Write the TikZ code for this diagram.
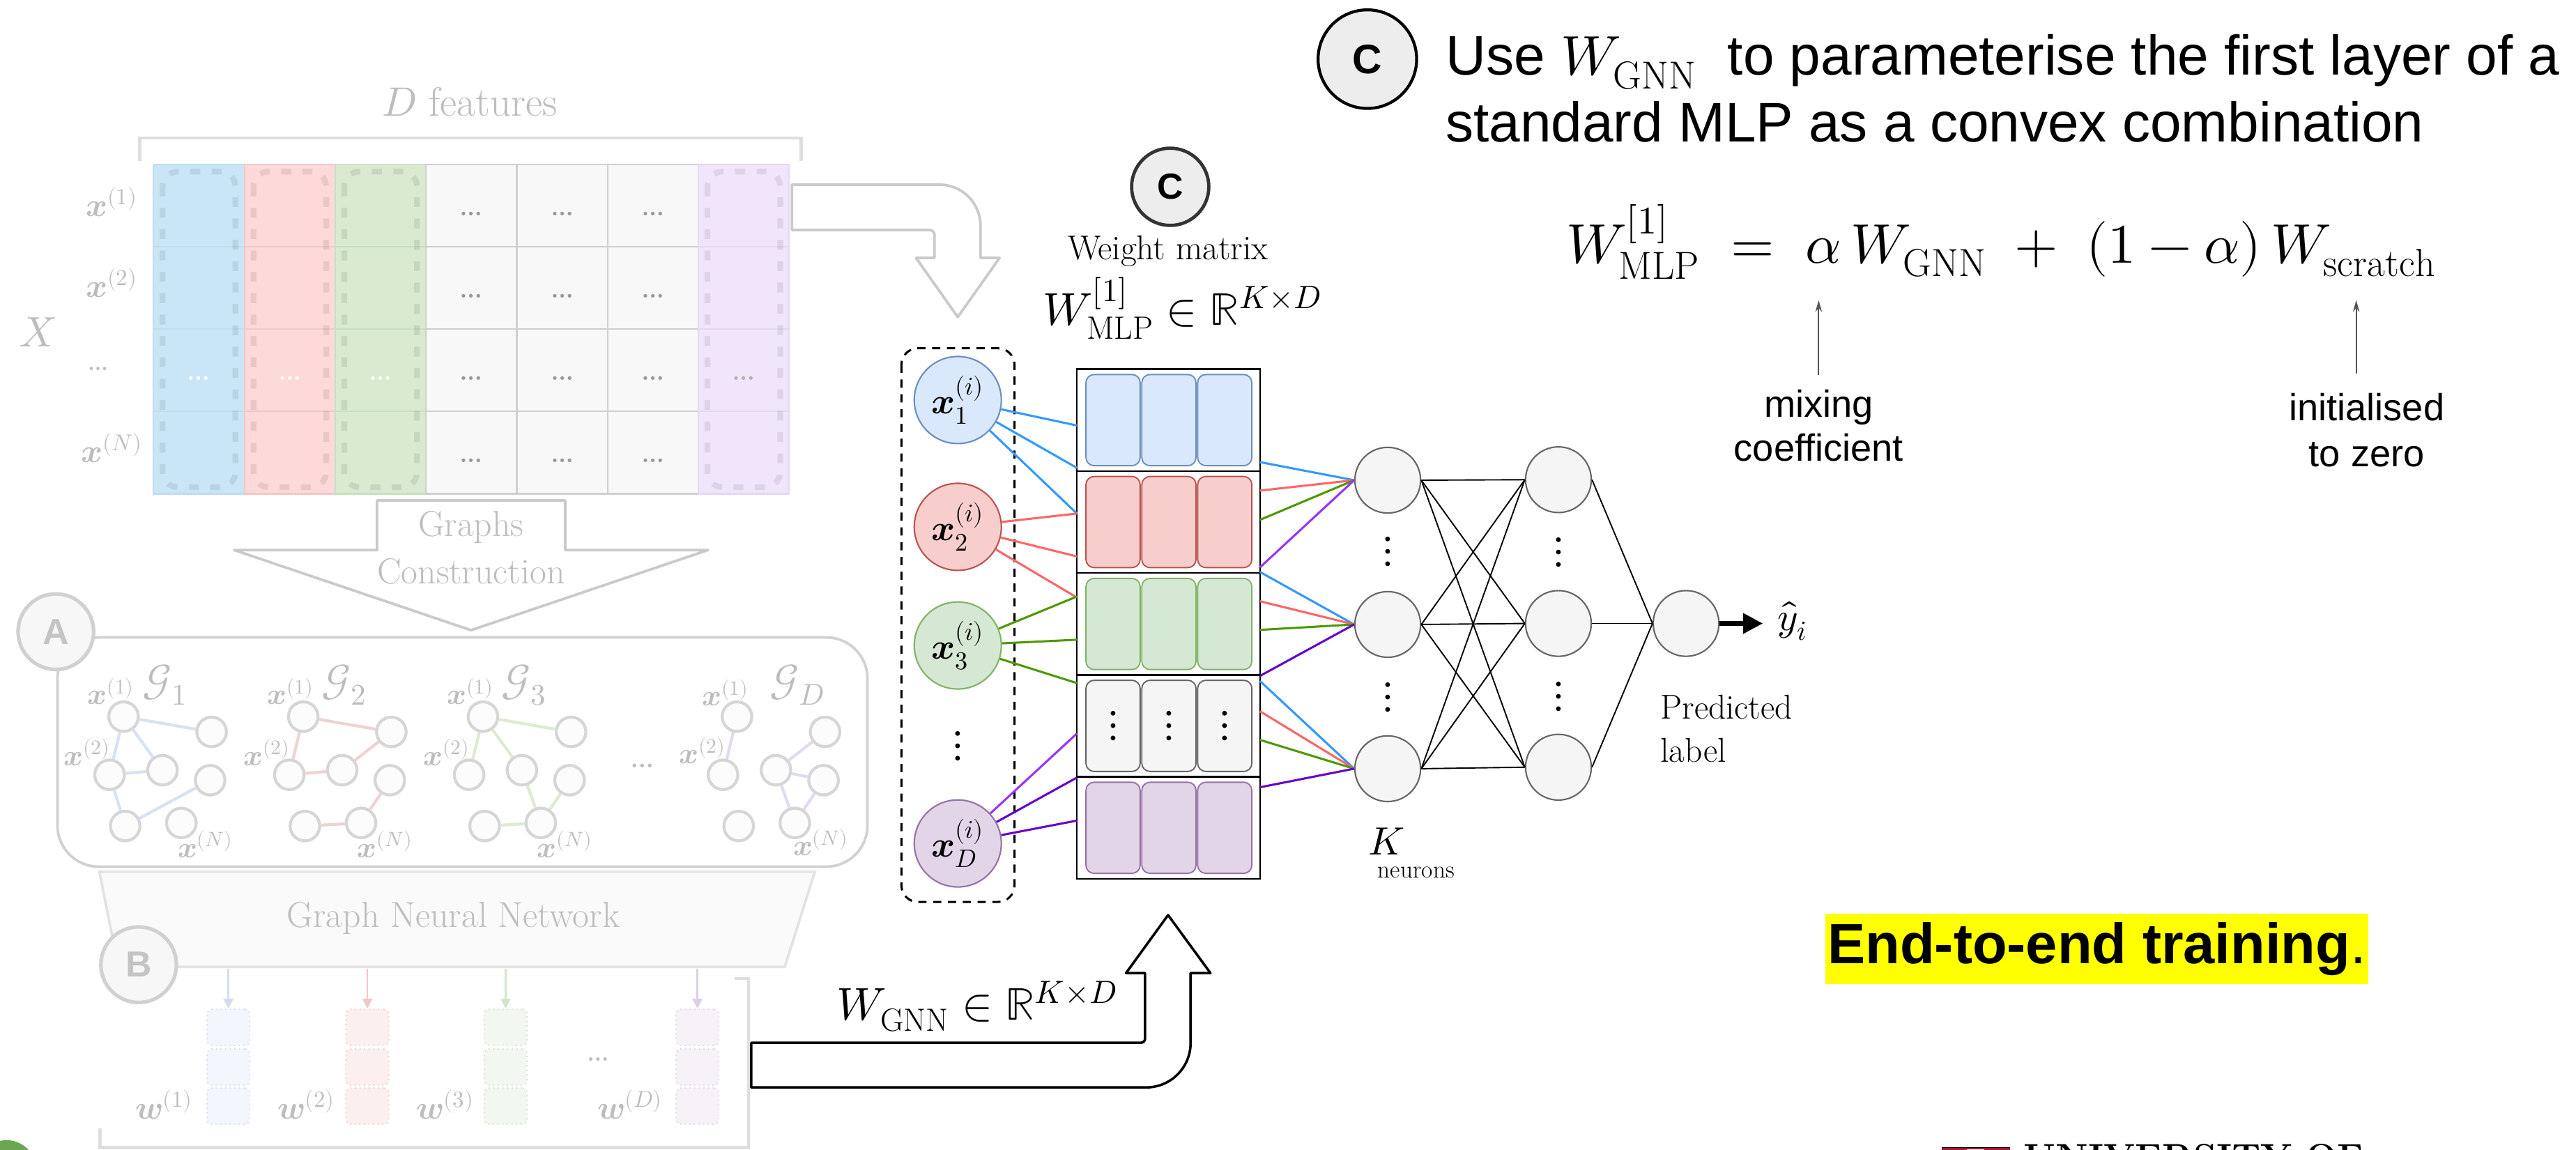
\documentclass[tikz,border=0pt]{standalone}
\usepackage{fontspec}
\usepackage{unicode-math}
\setmathfont{Latin Modern Math}
\newfontfamily\rob{Liberation Sans}
\usetikzlibrary{arrows.meta}
\newcommand\fsz[2]{\fontsize{#1}{#2}\selectfont}
% faded part
\definecolor{ftext}{HTML}{BDBDBD}
\definecolor{fline}{HTML}{CACACA}
\definecolor{cblue}{HTML}{C9E6F6}\definecolor{bblue}{HTML}{BFDDEE}
\definecolor{cred}{HTML}{FDD9D9}\definecolor{bred}{HTML}{F0C8C9}
\definecolor{cgreen}{HTML}{D9EAD0}\definecolor{bgreen}{HTML}{CADFC0}
\definecolor{cgray}{HTML}{F8F8F8}\definecolor{bgray}{HTML}{CFCFCF}
\definecolor{cpurp}{HTML}{F0E5FB}\definecolor{bpurp}{HTML}{E4D8F2}
\definecolor{eblue}{HTML}{D8E2F0}\definecolor{ered}{HTML}{EED3D3}
\definecolor{egreen}{HTML}{DCEBD2}\definecolor{epurp}{HTML}{E4DAEC}
\definecolor{gnfill}{HTML}{FCFCFC}\definecolor{gndraw}{HTML}{D6D6D6}
\definecolor{wbF}{HTML}{F3F6FC}\definecolor{wbD}{HTML}{D6E0EE}\definecolor{wbA}{HTML}{D3DDEE}
\definecolor{wrF}{HTML}{FBEFEF}\definecolor{wrD}{HTML}{EED2D2}\definecolor{wrA}{HTML}{EEC9C9}
\definecolor{wgF}{HTML}{F2F7EF}\definecolor{wgD}{HTML}{D6E6CC}\definecolor{wgA}{HTML}{D3E5C8}
\definecolor{wpF}{HTML}{F6F2F8}\definecolor{wpD}{HTML}{E3D9EA}\definecolor{wpA}{HTML}{DDD0E6}
% active part
\definecolor{dblueF}{HTML}{DAE8FC}\definecolor{dblueD}{HTML}{6C8EBF}
\definecolor{dredF}{HTML}{F8CECC}\definecolor{dredD}{HTML}{B85450}
\definecolor{dgreenF}{HTML}{D5E8D4}\definecolor{dgreenD}{HTML}{82B366}
\definecolor{dgrayF}{HTML}{F5F5F5}\definecolor{dgrayD}{HTML}{666666}
\definecolor{dpurpF}{HTML}{E1D5E7}\definecolor{dpurpD}{HTML}{9673A6}
\definecolor{lblue}{HTML}{3399FF}\definecolor{lred}{HTML}{FF6666}
\definecolor{lgreen}{HTML}{4D9900}\definecolor{lpurp}{HTML}{9933FF}
\definecolor{lpurpd}{HTML}{6600CC}
\definecolor{annot}{HTML}{555555}
\definecolor{hl}{HTML}{FFFF00}
\definecolor{unired}{HTML}{A3192E}
\begin{document}
\begin{tikzpicture}[x=1pt,y=-1pt,
  ft/.style={text=ftext, inner sep=0pt},
  gn/.style={circle, minimum size=18pt, inner sep=0pt, fill=gnfill, draw=gndraw, line width=1.8pt},
  ge/.style={line width=1.8pt},
  glab/.style={ft, font=\fsz{18}{20}},
  dashcol/.style={draw=black, draw opacity=0.08, line width=3.5pt, dash pattern=on 6pt off 7pt, rounded corners=9pt},
  fcirc/.style={circle, minimum size=46pt, inner sep=0pt, fill=black!3, draw=black!18, line width=2.2pt, text=black!23, font=\rob\bfseries\fsz{22}{24}},
  wv/.style={rectangle, rounded corners=3pt, minimum width=26pt, minimum height=22pt, inner sep=0pt, dotted, line width=0.8pt},
  garrow/.style={draw=fline, line width=1.6pt, fill=white, line join=round},
  inp/.style={circle, minimum size=53pt, inner sep=0pt, line width=0.9pt, font=\fsz{22}{26}},
  rowbox/.style={rectangle, minimum width=111.5pt, minimum height=62.04pt, inner sep=0pt, draw=black, line width=1pt},
  cell/.style={rectangle, rounded corners=5pt, minimum width=33pt, minimum height=55.5pt, inner sep=0pt, line width=0.8pt},
  hid/.style={circle, minimum size=40pt, inner sep=0pt, fill=dgrayF, draw=dgrayD, line width=0.9pt},
  nn/.style={black, line width=0.8pt},
  cl/.style={line width=1.3pt},
  ann/.style={draw=annot, line width=0.9pt, -{Stealth[length=7pt,width=4pt]}},
  serif/.style={inner sep=0pt}
]
\fill[white] (0,0) rectangle (1568,700);
\useasboundingbox (0,0) rectangle (1568,700);

%================ faded data matrix =================
\node[ft, font=\fsz{25}{28}] (dfeat) at (286,62) {$D$ features};
\draw[draw=black!13, line width=2pt] (85,98) -- (85,84) -- (487.6,84) -- (487.6,98);
\foreach \k/\cf/\cd in {0/cblue/bblue,1/cred/bred,2/cgreen/bgreen,3/cgray/bgray,4/cgray/bgray,5/cgray/bgray,6/cpurp/bpurp}{
  \foreach \r in {0,...,3}{
    \draw[fill=\cf, draw=\cd, line width=0.9pt] ({93.5+\k*55.27},{100+\r*50.15}) rectangle ++(55.27,50.15);
  }
}
\foreach \k in {0,1,2,6}
  \draw[dashcol] ({93.5+\k*55.27+5.5},104.5) rectangle ({93.5+(\k+1)*55.27-5.5},296.5);
\foreach \k in {3,4,5}
  \foreach \r in {0,...,3}
    \node[text=black!40, inner sep=0pt, font=\fsz{27}{30}] at ({93.5+(\k+0.5)*55.27},{100+(\r+0.5)*50.15+5}) {…};
\foreach \k in {0,1,2}
  \node[text=white, inner sep=0pt, font=\fsz{27}{30}] at ({93.5+(\k+0.5)*55.27},{100+2.5*50.15+5}) {…};
\node[text=black!30, inner sep=0pt, font=\fsz{27}{30}] at ({93.5+6.5*55.27},{100+2.5*50.15+5}) {…};
\node[ft, font=\fsz{20}{22}] (rl1) at (68,123) {$\symbfit{x}^{(1)}$};
\node[ft, font=\fsz{20}{22}] (rl2) at (68,172.3) {$\symbfit{x}^{(2)}$};
\node[ft, font=\fsz{24}{26}] (rl3) at (60,224.3) {…};
\node[ft, font=\fsz{20}{22}] (rl4) at (68,272.6) {$\symbfit{x}^{(N)}$};
\node[ft, font=\fsz{26}{28}] (Xlab) at (23,202) {$X$};

% gray arrow to the MLP
\draw[garrow] (482,112.4) -- (571.8,112.4) arc[start angle=90, end angle=0, radius=25pt]
  -- (596.8,157) -- (608.4,157) -- (583,193) -- (557.6,157) -- (568.8,157)
  -- (568.8,143) arc[start angle=0, end angle=90, radius=3pt] -- (482,140) -- cycle;

% graphs construction arrow
\draw[garrow] (229.5,304.6) -- (344,304.6) -- (344,334.8) -- (431,334.8) -- (286.7,383.6)
  -- (142.5,334.8) -- (229.5,334.8) -- cycle;
\node[ft, font=\fsz{22}{24}] (gc1) at (286.7,321) {Graphs};
\node[ft, font=\fsz{22}{24}] (gc2) at (286.7,348) {Construction};

%================ box A with graphs =================
\draw[draw=black!18, line width=1.6pt, fill=white, rounded corners=25pt] (35,388) rectangle (528,527.5);
\node[fcirc] (cA) at (34,384.5) {A};

\foreach \g/\o in {Ga/0,Gb/109.4,Gc/218.8,Gd/373.4}
  \foreach \n/\px/\py in {a/75.2/436.2,b/128.8/445.5,c/66.7/471.6,d/98.9/468.8,e/127.9/474.9,f/76.2/502.8,g/110.4/500.9}
    \node[gn] (\g\n) at ({\px+\o},\py) {};
\foreach \u/\v in {a/b,a/c,a/d,c/d,c/f,f/e} \draw[ge, draw=eblue] (Ga\u) -- (Ga\v);
\foreach \u/\v in {a/c,a/b,b/d,c/d,e/g,f/g} \draw[ge, draw=ered] (Gb\u) -- (Gb\v);
\foreach \u/\v in {a/b,a/c,a/d,d/g,f/g,g/e} \draw[ge, draw=egreen] (Gc\u) -- (Gc\v);
\foreach \u/\v in {a/c,b/d,d/e,d/g,g/e} \draw[ge, draw=epurp] (Gd\u) -- (Gd\v);
\foreach \o/\s in {0/1,109.4/2,218.8/3}{
  \node[glab] at ({67.5+\o},421) {$\symbfit{x}^{(1)}$};
  \node[glab] at ({53+\o},458) {$\symbfit{x}^{(2)}$};
  \node[glab] at ({125+\o},514) {$\symbfit{x}^{(N)}$};
  \node[ft, font=\fsz{26}{28}] at ({100.3+\o},417) {$\mathcal{G}_{\s}$};
}
\node[glab] at (441.5,421.8) {$\symbfit{x}^{(1)}$};
\node[glab] at (427.5,457) {$\symbfit{x}^{(2)}$};
\node[glab] at (499.6,513) {$\symbfit{x}^{(N)}$};
\node[ft, font=\fsz{26}{28}] at (485.5,416.8) {$\mathcal{G}_{D}$};
\node[ft, font=\fsz{28}{30}] (gdots) at (391,466) {…};

%================ GNN trapezoid and B =================
\draw[fill=black!2, draw=black!11, line width=1.6pt] (60.5,530.6) -- (496,530.6) -- (477.7,588.5) -- (72,588.5) -- cycle;
\node[ft, font=\fsz{22}{24}] (gnn) at (276,559) {Graph Neural Network};
\node[fcirc] (cB) at (84.4,587.2) {B};

\foreach \n/\cx/\f/\d/\a in {1/139/wbF/wbD/wbA,2/223.6/wrF/wrD/wrA,3/307.8/wgF/wgD/wgA,4/424.5/wpF/wpD/wpA}{
  \foreach \m/\cy in {a/625.3,b/649.5,c/673.3}
    \node[wv, fill=\f, draw=\d] (w\n-\m) at (\cx,\cy) {};
  \coordinate (wt\n) at (\cx,589.5);
  \draw[draw=\a, line width=1.1pt, -{Triangle[length=6pt,width=6pt]}] (wt\n) -- (w\n-a.north);
}
\node[ft, font=\fsz{20}{22}] at (100,672.5) {$\symbfit{w}^{(1)}$};
\node[ft, font=\fsz{20}{22}] at (186.5,672.5) {$\symbfit{w}^{(2)}$};
\node[ft, font=\fsz{20}{22}] at (271,672.5) {$\symbfit{w}^{(3)}$};
\node[ft, font=\fsz{20}{22}] at (383.5,672.5) {$\symbfit{w}^{(D)}$};
\node[ft, font=\fsz{26}{28}] at (364,645) {…};
\draw[draw=black!13, line width=2pt] (447,595.6) -- (455.6,595.6) -- (455.6,698.6) -- (60.8,698.6) -- (60.8,687);
\fill[color={rgb,255:red,106;green,168;blue,79}] (4,712) circle[radius=18pt];

%================ bottom black arrow =================
\draw[black, line width=1.5pt, fill=white, line join=round] (457.3,634.7) -- (694.5,634.7)
  arc[start angle=-90, end angle=0, radius=2.5pt] -- (697,592.3) -- (685.4,592.3) -- (711,557)
  -- (736.8,592.3) -- (724.7,592.3) -- (724.7,634.9) arc[start angle=0, end angle=-90, radius=27pt]
  -- (457.3,661.9) -- cycle;
\node[inner sep=0pt, anchor=base, font=\fsz{28}{30}] (wgnn) at (594.7,620.8) {$W_{\mathrm{GNN}}\in\mathbb{R}^{K\times D}$};

%================ MLP part =================
\node[circle, minimum size=47pt, inner sep=0pt, fill=black!7, draw=black!80, line width=2pt, font=\rob\bfseries\fsz{22}{24}] (cC) at (712.3,113.7) {C};
\node[serif, font=\fsz{21}{24}] (wm) at (711,152.7) {Weight matrix};
\node[serif, font=\fsz{28}{30}] (wmlp) at (719.7,187.5) {$W^{[1]}_{\mathrm{MLP}}\in\mathbb{R}^{K\times D}$};

\draw[dashed, line width=1.3pt, dash pattern=on 5pt off 4pt, rounded corners=10pt] (548.7,212) rectangle (617.5,549);

\node[inp, fill=dblueF, draw=dblueD] (x1) at (583,243.5) {$\symbfit{x}_1^{(i)}$};
\node[inp, fill=dredF, draw=dredD] (x2) at (583,320.7) {$\symbfit{x}_2^{(i)}$};
\node[inp, fill=dgreenF, draw=dgreenD] (x3) at (583,392.9) {$\symbfit{x}_3^{(i)}$};
\node[inner sep=0pt, font=\fsz{27}{30}] (xdots) at (583,454) {$\vdots$};
\node[inp, fill=dpurpF, draw=dpurpD] (xD) at (583,513.4) {$\symbfit{x}_D^{(i)}$};

\foreach \r/\cy/\f/\d in {1/255.72/dblueF/dblueD,2/317.76/dredF/dredD,3/379.8/dgreenF/dgreenD,4/441.84/dgrayF/dgrayD,5/503.88/dpurpF/dpurpD}{
  \node[rowbox] (row\r) at (711.25,\cy) {};
  \foreach \c/\cx in {1/677.5,2/711.5,3/745.5}
    \node[cell, fill=\f, draw=\d] (cell\r\c) at (\cx,\cy) {};
}
\foreach \c/\cx in {1/677.5,2/711.5,3/745.5}
  \node[inner sep=0pt, font=\fsz{27}{30}] at (\cx,441.84) {$\vdots$};

% left connectors
\foreach \n/\y in {1/259,2/284.8,3/312.6,4/312.6,5/338.7,6/363.7,7/363.1,8/389.4,9/415.8,10/446.5,11/473.3,12/499.5}
  \coordinate (L\n) at (655.5,\y);
\foreach \n in {1,2,3} \draw[cl, lblue] (x1) -- (L\n);
\foreach \n in {4,5,6} \draw[cl, lred] (x2) -- (L\n);
\foreach \n in {7,8,9} \draw[cl, lgreen] (x3) -- (L\n);
\draw[cl, lpurp] (xD) -- (L10);
\draw[cl, lpurpd] (xD) -- (L11);
\draw[cl, lpurpd] (xD) -- (L12);

% hidden layers
\node[hid] (h11) at (844.7,292.3) {};
\node[hid] (h12) at (844.7,380.1) {};
\node[hid] (h13) at (844.7,467.9) {};
\node[hid] (h21) at (948.6,292) {};
\node[hid] (h22) at (948.6,379.5) {};
\node[hid] (h23) at (948.6,467) {};
\node[hid] (out) at (1026.3,379.5) {};
\foreach \x/\y in {844.7/336,844.7/424.3,948.6/336.3,948.6/424}
  \node[inner sep=0pt, font=\fsz{27}{30}] at (\x,\y) {$\vdots$};

% right connectors
\foreach \n/\y in {1/281.3,2/298.6,3/316.4,4/345.3,5/348.2,6/366,7/383.4,8/411.4,9/414.6,10/433,11/450.4,12/479.2}
  \coordinate (R\n) at (767,\y);
\foreach \a/\b/\c/\d/\h in {1/2/3/4/h11,5/6/7/8/h12,9/10/11/12/h13}{
  \draw[cl, lblue] (R\a) -- (\h.west);
  \draw[cl, lred] (R\b) -- (\h.west);
  \draw[cl, lgreen] (R\c) -- (\h.west);
}
\draw[cl, lpurp] (R4) -- (h11.west);
\draw[cl, lpurpd] (R8) -- (h12.west);
\draw[cl, lpurpd] (R12) -- (h13.west);

\foreach \i in {1,2,3}
  \foreach \j in {1,2,3}
    \draw[nn] (h1\i.east) -- (h2\j.west);
\foreach \j in {1,2,3}
  \draw[nn] (h2\j.east) -- (out.west);

\coordinate (yend) at (1073,379.5);
\draw[black, line width=2.6pt, -{Triangle[length=12pt,width=12pt]}] (out.east) -- (yend);
\node[inner sep=0pt, font=\fsz{24}{26}] (yhat) at (1091,378) {$\hat{y}_i$};
\node[inner sep=0pt, anchor=north west, align=left, font=\fsz{21}{26}] (pred) at (1010.5,423) {Predicted\\label};
\node[inner sep=0pt, font=\fsz{24}{26}] (Klab) at (844,512) {$K$};
\node[inner sep=0pt, font=\fsz{15}{18}] (neur) at (862,531) {neurons};

%================ top right text =================
\node[circle, minimum size=60pt, inner sep=0pt, fill=black!7, draw=black, line width=1.8pt, font=\rob\bfseries\fsz{25}{28}] (cC2) at (832.3,36) {C};
\node[inner sep=0pt, anchor=base west, font=\rob\fsz{34}{40}] (t1) at (879.8,45.5) {Use $W_{\mathrm{GNN}}$\ \ to parameterise the first layer of a};
\node[inner sep=0pt, anchor=base west, font=\rob\fsz{34}{40}] (t2) at (879.8,86.2) {standard MLP as a convex combination};
\node[inner sep=0pt, anchor=base, font=\fsz{34}{36}] (eq) at (1218,160) {$W^{[1]}_{\mathrm{MLP}}\;=\;\alpha\,W_{\mathrm{GNN}}\;+\;(1-\alpha)\,W_{\mathrm{scratch}}$};
\node[inner sep=0pt, align=center, font=\rob\fsz{23}{26.5}] (mix) at (1107,259) {mixing\\coefficient};
\node[inner sep=0pt, align=center, font=\rob\fsz{23}{28}] (init) at (1440.6,262) {initialised\\to zero};
\coordinate (amix) at (1107,182.8);
\coordinate (ainit) at (1434.2,182.8);
\draw[ann, shorten <=9pt] (mix.north) -- (amix);
\draw[ann, shorten <=12pt] (init.north -| ainit) -- (ainit);

\node[fill=hl, inner xsep=1.5pt, inner ysep=0pt, minimum height=43pt, anchor=west, font=\rob\fsz{34.5}{40}] (e2e) at (1110.8,577.5) {\textbf{End-to-end training}.};

% clipped logo strip at the bottom edge
\fill[unired] (1182,698.6) rectangle (1223.6,708);
\fill[white] (1197,699.4) rectangle (1208,708);
\draw[black, line width=0.6pt] (1182,698.6) -- (1223.6,698.6);
\node[inner sep=0pt, anchor=north west, font=\fsz{22.5}{24}\bfseries] (uni) at (1231.6,696) {UNIVERSITY OF};
\end{tikzpicture}
\end{document}
